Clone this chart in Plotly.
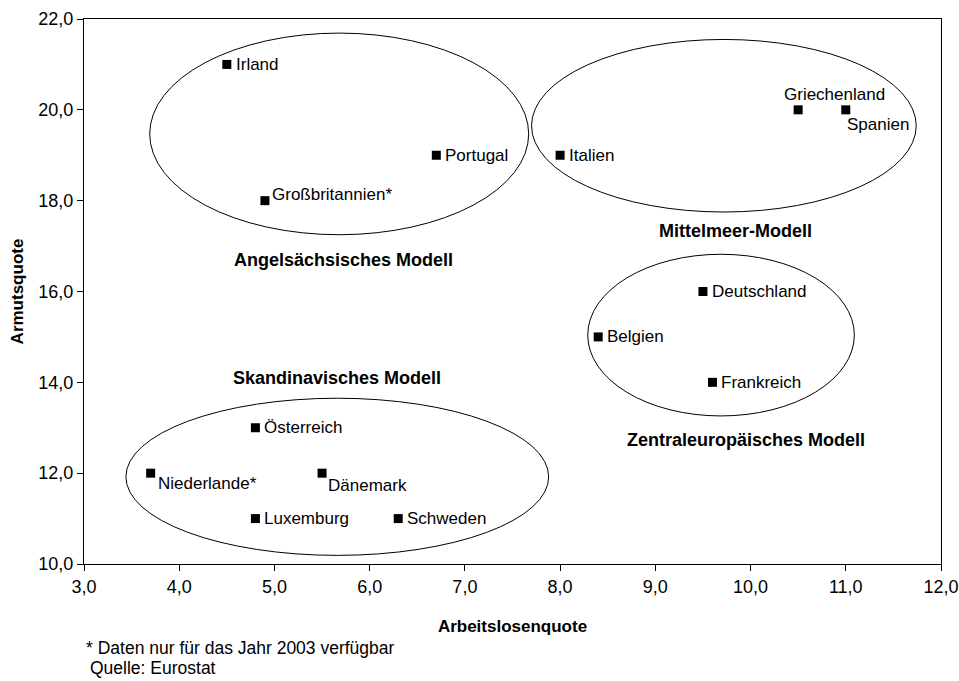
import plotly.graph_objects as go

# Data
countries = ["Irland", "Großbritannien*", "Portugal", "Italien", "Griechenland", "Spanien",
             "Deutschland", "Belgien", "Frankreich", "Österreich", "Niederlande*", "Dänemark",
             "Luxemburg", "Schweden"]
arbeitslosenquote = [4.5, 4.9, 6.7, 8.0, 10.5, 11.0, 9.5, 8.4, 9.6, 4.8, 3.7, 5.5, 4.8, 6.3]
armutsquote = [21.0, 18.0, 19.0, 19.0, 20.0, 20.0, 16.0, 15.0, 14.0, 13.0, 12.0, 12.0, 11.0, 11.0]

x_ticks = [3, 4, 5, 6, 7, 8, 9, 10, 11, 12]
y_ticks = [10, 12, 14, 16, 18, 20, 22]

FONT = "Liberation Sans, Arial, sans-serif"

fig = go.Figure()
fig.add_trace(go.Scatter(
    x=arbeitslosenquote, y=armutsquote, mode="markers",
    marker=dict(symbol="square", size=9, color="black"),
    hoverinfo="text", text=countries, showlegend=False,
))

# label placement (style): xanchor, xshift, yshift
placement = {
    "Großbritannien*": ("left", 5, 6),
    "Niederlande*": ("left", 5, -10),
    "Dänemark": ("left", 4, -12),
    "Griechenland": ("center", 36, 15),
    "Spanien": ("left", -1, -15),
}
annotations = []
for name, xv, yv in zip(countries, arbeitslosenquote, armutsquote):
    xa, xs, ys = placement.get(name, ("left", 7, 0))
    annotations.append(dict(x=xv, y=yv, xref="x", yref="y", text=name, showarrow=False,
                            xanchor=xa, yanchor="middle", xshift=xs, yshift=ys,
                            font=dict(family=FONT, size=17, color="black")))

# group labels
groups = [
    ("Angelsächsisches Modell", 5.72, 16.69),
    ("Mittelmeer-Modell", 9.84, 17.34),
    ("Skandinavisches Modell", 5.66, 14.09),
    ("Zentraleuropäisches Modell", 9.95, 12.73),
]
for t, gx, gy in groups:
    annotations.append(dict(x=gx, y=gy, xref="x", yref="y", text="<b>" + t + "</b>",
                            showarrow=False, font=dict(family=FONT, size=18, color="black")))

W, H = 959, 681
L, R, T, B = 84, 959 - 941, 19, 681 - 564
pw, ph = W - L - R, H - T - B

footnotes = [("* Daten nur für das Jahr 2003 verfügbar", 84, 648),
             ("Quelle: Eurostat", 88, 668)]
for t, px, py in footnotes:
    annotations.append(dict(x=(px - L) / pw, y=(H - B - py) / ph, xref="paper", yref="paper",
                            text=t, showarrow=False, xanchor="left", yanchor="middle",
                            font=dict(family=FONT, size=17.5, color="black")))

# ellipses (group outlines): center x, center y, half-width, half-height
ellipses = [
    (5.68, 19.47, 1.99, 2.22),
    (9.72, 19.65, 2.02, 1.90),
    (9.69, 15.04, 1.40, 1.78),
    (5.66, 11.92, 2.22, 1.73),
]
shapes = []
for cx, cy, rx, ry in ellipses:
    shapes.append(dict(type="circle", xref="x", yref="y", x0=cx - rx, x1=cx + rx,
                       y0=cy - ry, y1=cy + ry, line=dict(color="black", width=1),
                       layer="below"))

fig.update_layout(
    width=W, height=H,
    margin=dict(l=L, r=R, t=T, b=B, autoexpand=False),
    plot_bgcolor="white", paper_bgcolor="white",
    separators=",.",
    font=dict(family=FONT, size=18, color="black"),
    annotations=annotations, shapes=shapes,
    xaxis=dict(range=[3, 12], tickvals=x_ticks, tickformat=".1f", showgrid=False, zeroline=False,
               showline=True, mirror=True, linecolor="black", linewidth=1,
               ticks="outside", ticklen=6, tickcolor="black", automargin=False,
               tickfont=dict(size=18),
               title=dict(text="<b>Arbeitslosenquote</b>", font=dict(size=17), standoff=24)),
    yaxis=dict(range=[10, 22], tickvals=y_ticks, tickformat=".1f", showgrid=False, zeroline=False,
               showline=True, mirror=True, linecolor="black", linewidth=1,
               ticks="outside", ticklen=6, tickcolor="black", automargin=False,
               tickfont=dict(size=18),
               title=dict(text="<b>Armutsquote</b>", font=dict(size=17), standoff=10)),
)

fig.write_html("out.html", config={"displayModeBar": False},
               post_script="document.body.style.margin='0px';document.body.style.overflow='hidden';")
